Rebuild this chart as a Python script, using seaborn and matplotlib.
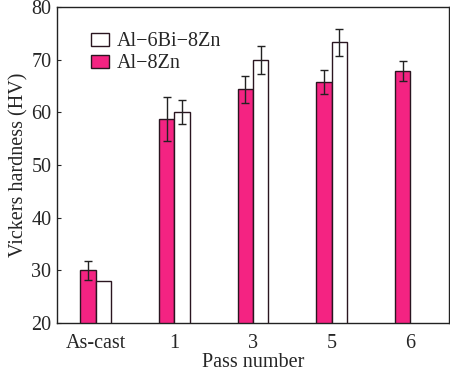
import matplotlib
matplotlib.use("Agg")
import matplotlib.pyplot as plt
import seaborn as sns
import pandas as pd
import numpy as np
from matplotlib.patches import Patch

categories = ["As-cast", "1", "3", "5", "6"]
al8zn = [30.0, 58.7, 64.4, 65.8, 67.8]
al8zn_err = [1.85, 4.2, 2.55, 2.25, 1.9]
al6bi = [28.0, 60.1, 69.9, 73.3, np.nan]
al6bi_err = [0.0, 2.25, 2.7, 2.6, np.nan]
series = ["Al\u22128Zn", "Al\u22126Bi\u22128Zn"]

sns.set_theme(style="ticks")
plt.rcParams["font.family"] = ["Liberation Serif", "DejaVu Serif"]

df = pd.DataFrame({
    "Pass": categories * 2,
    "HV": al8zn + al6bi,
    "err": al8zn_err + al6bi_err,
    "Alloy": [series[0]] * len(categories) + [series[1]] * len(categories),
})

fig = plt.figure(figsize=(4.5, 3.73), dpi=100)
ax = fig.add_axes([57 / 450, 1 - 323 / 373, 392 / 450, 316 / 373])

pink = "#F42382"
edge = "#2a1520"
sns.barplot(data=df, x="Pass", y="HV", hue="Alloy", order=categories,
            hue_order=series, palette=[pink, "white"], width=0.39,
            saturation=1, edgecolor=edge, linewidth=1.0, errorbar=None,
            legend=False, ax=ax)

for patch_group, errs in zip(ax.containers, [al8zn_err, al6bi_err]):
    for bar, e in zip(patch_group, errs):
        h = bar.get_height()
        if np.isnan(h) or np.isnan(e) or e == 0:
            continue
        xc = bar.get_x() + bar.get_width() / 2
        ax.errorbar(xc, h, yerr=e, fmt="none", ecolor="#222222",
                    elinewidth=1.0, capsize=2.6, capthick=1.0)

ax.set_ylim(20, 80)
ax.set_xlim(-0.49, 4.49)
ax.set_yticks([20, 30, 40, 50, 60, 70, 80])
ax.tick_params(axis="y", direction="in", length=3, labelsize=14.5, width=0.8, pad=4)
ax.tick_params(axis="x", length=0, labelsize=14.5, pad=8)
ax.set_xlabel("Pass number", fontsize=14.5, labelpad=0)
ax.set_ylabel("Vickers hardness (HV)", fontsize=14.5, labelpad=2)
for s in ax.spines.values():
    s.set_visible(True)
    s.set_linewidth(1.0)
    s.set_color("#222222")

handles = [Patch(facecolor="white", edgecolor=edge, label=series[1]),
           Patch(facecolor=pink, edgecolor=edge, label=series[0])]
ax.legend(handles=handles, loc="upper left", bbox_to_anchor=(0.066, 0.945),
          frameon=False, fontsize=14.5, handlelength=0.9, handleheight=0.6,
          handletextpad=0.4, labelspacing=0.15, borderaxespad=0)

fig.savefig("out.png", dpi=100)
